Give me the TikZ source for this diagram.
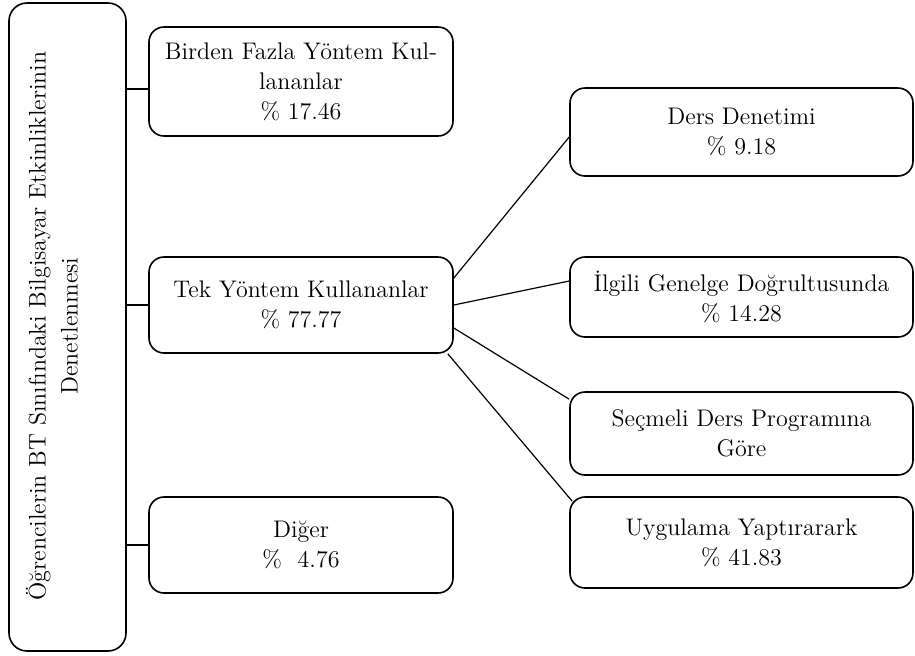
\documentclass[tikz,border=0pt]{standalone}
\usepackage{tikz}
\usetikzlibrary{calc}
\tikzset{
	kutu/.style={draw, line width=0.8pt, rounded corners=7.5pt, align=center, inner sep=2pt, font=\fontsize{12}{15}\selectfont},
	solkutu/.style={kutu, minimum width=152pt},
	sagkutu/.style={kutu, minimum width=171.5pt},
	bag/.style={line width=0.6pt}
}

\begin{document}
\begin{tikzpicture}[x=0.5pt, y=-0.5pt]
			%%%%% START %%%%%
			\useasboundingbox (0, 0) rectangle (915, 655);
			
			\node[kutu, minimum width=58.5pt, minimum height=324pt, rounded corners=9pt] (root) at (67.5, 327) {};
			\node[rotate=90, align=center, font=\fontsize{12}{16}\selectfont] (roottext) at (52, 326) {Öğrencilerin BT Sınıfındaki Bilgisayar Etkinliklerinin\\Denetlenmesi};
			
			\node[solkutu, minimum height=54.5pt] (birden) at (301, 81.5) {Birden Fazla Yöntem Kul-\\lananlar\\\% 17.46};
			\node[solkutu, minimum height=48pt] (tek) at (301, 305) {Tek Yöntem Kullananlar\\\% 77.77};
			\node[solkutu, minimum height=48pt] (diger) at (301, 545) {Diğer\\\%\ \ 4.76};
			
			\node[sagkutu, minimum height=44pt] (ders) at (741.5, 132) {Ders Denetimi\\\% 9.18};
			\node[sagkutu, minimum height=40pt] (ilgili) at (741.5, 297) {İlgili Genelge Doğrultusunda\\\% 14.28};
			\node[sagkutu, minimum height=41.5pt] (secmeli) at (741.5, 433.5) {Seçmeli Ders Programına\\Göre};
			\node[sagkutu, minimum height=45.5pt] (uyg) at (741.5, 542.5) {Uygulama Yaptırarark\\\% 41.83};
			
			\draw[bag] ($(root.east |- birden.west)+(0, 7.5)$) -- ($(birden.west)+(0, 7.5)$);
			\draw[bag] (root.east |- tek.west) -- (tek.west);
			\draw[bag] (root.east |- diger.west) -- (diger.west);
			
			\draw[bag] ($(tek.east)+(0, -27)$) -- ($(ders.west)+(0, 5)$);
			\draw[bag] (tek.east) -- ($(ilgili.west)+(0, -16)$);
			\draw[bag] ($(tek.east)+(0, 23)$) -- ($(secmeli.north west)+(0, 8)$);
			\draw[bag] ($(tek.south east)+(-6, 0)$) -- ($(uyg.north west)+(3, 5)$);
			%%%%% END %%%%%
\end{tikzpicture}
\end{document}
